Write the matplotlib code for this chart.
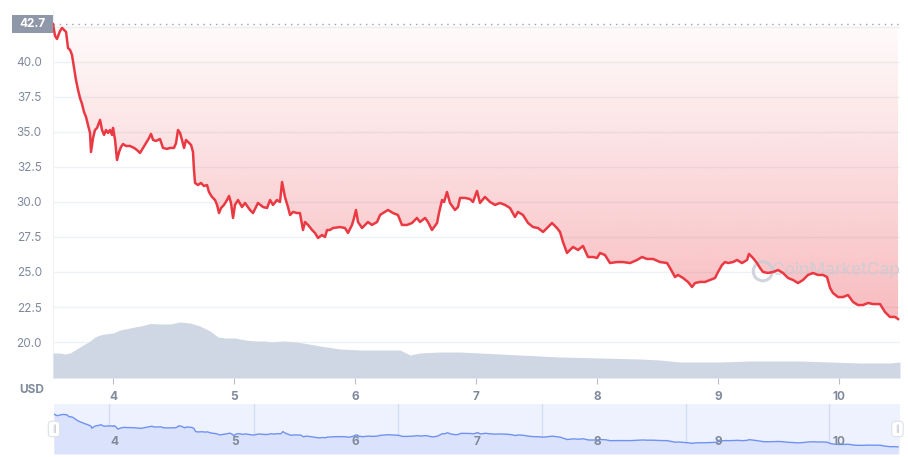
import matplotlib.pyplot as plt
import numpy as np
from matplotlib.transforms import blended_transform_factory
from matplotlib.patches import Rectangle, Ellipse

plt.switch_backend('Agg')
plt.rcParams['font.family'] = ['Inter', 'DejaVu Sans']

# price, time in days of the month
days = [3.504, 3.521, 3.537, 3.562, 3.579, 3.595, 3.612, 3.620, 3.628, 3.645, 3.661, 3.678,
        3.694, 3.711, 3.727, 3.744, 3.760, 3.777, 3.793, 3.810, 3.818, 3.835, 3.851, 3.868,
        3.893, 3.909, 3.926, 3.942, 3.959, 3.975, 3.992, 4.000, 4.017, 4.033, 4.050, 4.066,
        4.083, 4.107, 4.140, 4.174, 4.198, 4.223, 4.248, 4.273, 4.298, 4.314, 4.331, 4.355,
        4.388, 4.413, 4.446, 4.471, 4.504, 4.521, 4.537, 4.554, 4.570, 4.587, 4.603, 4.620,
        4.645, 4.661, 4.669, 4.678, 4.702, 4.727, 4.752, 4.777, 4.793, 4.818, 4.843, 4.860,
        4.876, 4.893, 4.917, 4.942, 4.959, 4.975, 4.992, 5.008, 5.033, 5.066, 5.091, 5.132,
        5.157, 5.198, 5.240, 5.273, 5.298, 5.322, 5.355, 5.380, 5.397, 5.421, 5.446, 5.463,
        5.488, 5.521, 5.545, 5.570, 5.587, 5.612, 5.645, 5.669, 5.694, 5.727, 5.752, 5.769,
        5.793, 5.818, 5.876, 5.917, 5.942, 5.975, 5.992, 6.008, 6.025, 6.058, 6.083, 6.107,
        6.140, 6.182, 6.207, 6.231, 6.273, 6.314, 6.355, 6.388, 6.430, 6.471, 6.512, 6.537,
        6.579, 6.603, 6.636, 6.678, 6.694, 6.719, 6.736, 6.760, 6.785, 6.826, 6.851, 6.868,
        6.909, 6.950, 6.975, 7.008, 7.033, 7.074, 7.116, 7.157, 7.198, 7.240, 7.281, 7.322,
        7.347, 7.388, 7.430, 7.471, 7.512, 7.554, 7.587, 7.628, 7.669, 7.694, 7.719, 7.752,
        7.802, 7.843, 7.884, 7.926, 7.967, 8.000, 8.025, 8.066, 8.107, 8.165, 8.215, 8.273,
        8.331, 8.372, 8.413, 8.463, 8.521, 8.579, 8.603, 8.645, 8.669, 8.711, 8.752, 8.785,
        8.810, 8.851, 8.893, 8.934, 8.975, 9.000, 9.033, 9.058, 9.083, 9.124, 9.157, 9.198,
        9.240, 9.256, 9.289, 9.322, 9.347, 9.372, 9.413, 9.455, 9.496, 9.537, 9.579, 9.620,
        9.661, 9.702, 9.744, 9.785, 9.826, 9.868, 9.901, 9.926, 9.950, 9.992, 10.033, 10.074,
        10.116, 10.157, 10.198, 10.240, 10.281, 10.339, 10.380, 10.421, 10.463, 10.488]
price = [42.70, 41.86, 41.64, 42.21, 42.43, 42.29, 42.14, 41.57, 41.00, 40.86, 40.50, 39.57,
         38.71, 38.00, 37.43, 37.00, 36.43, 36.07, 35.50, 34.93, 33.57, 34.57, 35.14, 35.29,
         35.86, 35.14, 34.79, 35.14, 34.93, 35.14, 34.79, 35.29, 34.43, 33.00, 33.57, 33.93,
         34.14, 34.00, 34.00, 33.86, 33.71, 33.50, 33.86, 34.21, 34.57, 34.86, 34.43, 34.36,
         34.50, 33.86, 33.79, 33.86, 33.86, 34.21, 35.14, 34.93, 34.43, 33.86, 34.43, 34.29,
         34.07, 33.57, 32.29, 31.36, 31.21, 31.36, 31.14, 31.21, 30.71, 30.36, 30.14, 29.79,
         29.21, 29.57, 29.79, 30.14, 30.43, 29.93, 28.86, 29.79, 30.14, 29.64, 29.93, 29.43,
         29.21, 29.93, 29.64, 29.57, 30.14, 29.79, 30.14, 30.00, 31.43, 30.36, 29.64, 29.07,
         29.29, 29.21, 29.21, 28.00, 28.57, 28.36, 28.00, 27.79, 27.43, 27.64, 27.50, 28.00,
         28.00, 28.14, 28.21, 28.14, 27.79, 28.36, 28.86, 29.43, 28.57, 28.14, 28.36, 28.57,
         28.36, 28.57, 29.07, 29.21, 29.43, 29.21, 29.07, 28.36, 28.36, 28.50, 28.86, 28.57,
         28.86, 28.57, 28.00, 28.50, 29.21, 30.14, 30.00, 30.71, 29.93, 29.43, 29.64, 30.29,
         30.29, 30.21, 30.00, 30.79, 29.93, 30.36, 30.00, 29.79, 29.93, 29.79, 29.57, 28.93,
         29.29, 29.07, 28.50, 28.21, 28.14, 27.86, 28.14, 28.50, 28.14, 27.86, 27.14, 26.36,
         26.79, 26.57, 26.86, 26.07, 26.07, 26.00, 26.36, 26.21, 25.64, 25.71, 25.71, 25.64,
         25.86, 26.07, 25.93, 25.93, 25.71, 25.64, 25.29, 24.64, 24.79, 24.57, 24.29, 23.93,
         24.21, 24.29, 24.29, 24.43, 24.57, 25.00, 25.50, 25.71, 25.64, 25.71, 25.86, 25.64,
         25.86, 26.29, 26.00, 25.64, 25.29, 25.00, 24.93, 25.00, 25.14, 24.93, 24.57, 24.43,
         24.21, 24.43, 24.79, 24.93, 24.79, 24.79, 24.64, 23.86, 23.50, 23.21, 23.21, 23.36,
         22.86, 22.64, 22.64, 22.79, 22.71, 22.71, 22.14, 21.79, 21.79, 21.64]

# volume (millions USD)
vol_days = [3.504, 3.562, 3.603, 3.645, 3.686, 3.727, 3.769, 3.810, 3.851, 3.893, 3.934, 4.000,
            4.058, 4.099, 4.182, 4.264, 4.306, 4.388, 4.471, 4.554, 4.636, 4.719, 4.802, 4.868,
            4.926, 5.008, 5.091, 5.174, 5.256, 5.314, 5.405, 5.521, 5.711, 5.876, 6.041, 6.207,
            6.372, 6.455, 6.537, 6.702, 6.868, 7.033, 7.198, 7.529, 7.694, 8.025, 8.355, 8.521,
            8.686, 8.851, 9.017, 9.264, 9.512, 9.678, 9.926, 10.174, 10.421, 10.504]
volume = [25, 25, 24, 25, 28, 31, 34, 37, 41, 43, 44, 45, 48, 49, 51, 53, 54.5, 54, 54, 56,
          55, 52, 47, 41, 40, 40, 38, 37, 37, 36, 37, 36, 32, 29, 28, 28, 28, 23, 25, 26, 26,
          25, 24, 22, 21, 20, 19, 18, 16, 16, 16, 17, 17, 17, 16, 15, 15, 16]

start_price = 42.7
y_ticks = [20.0, 22.5, 25.0, 27.5, 30.0, 32.5, 35.0, 37.5, 40.0]
grid_levels = y_ticks + [42.5]
x_ticks = [4, 5, 6, 7, 8, 9, 10]
nav_grid = [3.96, 5.16, 6.35, 7.54, 8.73, 9.92]

RED = '#ea3943'
GREY = '#808a9d'

fig = plt.figure(figsize=(9.08, 4.57), dpi=100)
ax = fig.add_axes([53 / 908, 79 / 457, 847 / 908, 368 / 457])

for lv in grid_levels:
    ax.axhline(lv, color='#eff2f5', lw=1, zorder=0)

# gradient fill between the line and the opening price
poly = ax.fill_between(days, price, start_price, color='none', lw=0)
grad = np.zeros((256, 1, 4))
grad[:, 0, 0] = 234 / 255
grad[:, 0, 1] = 57 / 255
grad[:, 0, 2] = 67 / 255
grad[:, 0, 3] = np.linspace(0.34, 0.02, 256)
im = ax.imshow(grad, extent=[3.504, 10.504, min(price), start_price], aspect='auto',
               origin='lower', zorder=1)
im.set_clip_path(poly.get_paths()[0], transform=ax.transData)

ax.axhline(start_price, color='#9ca3b2', lw=1, ls=(0, (1, 3.5)), zorder=2)
ax.plot(days, price, color=RED, lw=1.8, zorder=4, solid_joinstyle='round')
ax.set_xlim(3.504, 10.504)
ax.set_ylim(17.43, 43.71)

# watermark
ax.text(0.924, 0.293, 'CoinMarketCap', transform=ax.transAxes, fontsize=12.5,
        color='#c9cdd6', alpha=0.85, ha='center', va='center', zorder=3)
ax.add_patch(Ellipse((0.838, 0.29), 19 / 847, 19 / 368, transform=ax.transAxes, fill=False,
                     ec='#c9cdd6', lw=2.2, alpha=0.85, zorder=3))

for s in ['top', 'right', 'bottom']:
    ax.spines[s].set_visible(False)
ax.spines['left'].set_color('#eff2f5')

ax.set_yticks(y_ticks)
ax.set_yticklabels([f'{v:.1f}' for v in y_ticks])
ax.set_xticks(x_ticks)
ax.set_xticklabels([str(d) for d in x_ticks], fontweight='bold')
ax.tick_params(axis='y', length=0, pad=8, labelsize=8.5, labelcolor=GREY)
ax.tick_params(axis='x', length=4, color='#b8bec9', pad=5, labelsize=8.5, labelcolor=GREY)

# opening price label
tr = blended_transform_factory(fig.transFigure, ax.transData)
ax.add_patch(Rectangle((12 / 908, start_price - 0.64), 41 / 908, 1.28, transform=tr,
                       fc='#8f98a9', ec='none', clip_on=False, zorder=5))
ax.text(32.5 / 908, start_price, f'{start_price}', transform=tr, color='white',
        fontsize=8.5, fontweight='bold', ha='center', va='center', zorder=6)

# volume
axv = ax.twinx()
axv.fill_between(vol_days, volume, 0, color='#cfd6e4', lw=0)
axv.set_ylim(0, 368)
axv.set_xlim(3.504, 10.504)
axv.axis('off')

fig.text(32 / 908, 1 - 390 / 457, 'USD', ha='center', va='center', fontsize=8.5,
         fontweight='bold', color=GREY)

# navigator
axn = fig.add_axes([54 / 908, 3 / 457, 846 / 908, 50 / 457])
axn.set_facecolor('#eef2fe')
axn.set_xlim(3.504, 10.504)
axn.set_ylim(17.1, 49.1)
for g in nav_grid:
    axn.axvline(g, color='#d5ddf6', lw=1, zorder=0)
axn.fill_between(days, price, 17.1, color='#dbe3fc', lw=0, zorder=1)
axn.plot(days, price, color='#6f92f2', lw=1, zorder=2)
for d in x_ticks:
    axn.text(d, 0.24, str(d), transform=blended_transform_factory(axn.transData, axn.transAxes),
             ha='center', va='center', fontsize=8.5, fontweight='bold', color=GREY, zorder=3)
for hx in [0.0, 0.997]:
    axn.text(hx, 0.5, '||', transform=axn.transAxes, ha='center', va='center', fontsize=5,
             color='#a0a7b5', clip_on=False, zorder=5,
             bbox=dict(boxstyle='round,pad=0.5', fc='white', ec='#dde1e8', lw=0.8))
axn.set_xticks([])
axn.set_yticks([])
for s in axn.spines.values():
    s.set_visible(False)

fig.savefig('out.png', dpi=100)
plt.close()
